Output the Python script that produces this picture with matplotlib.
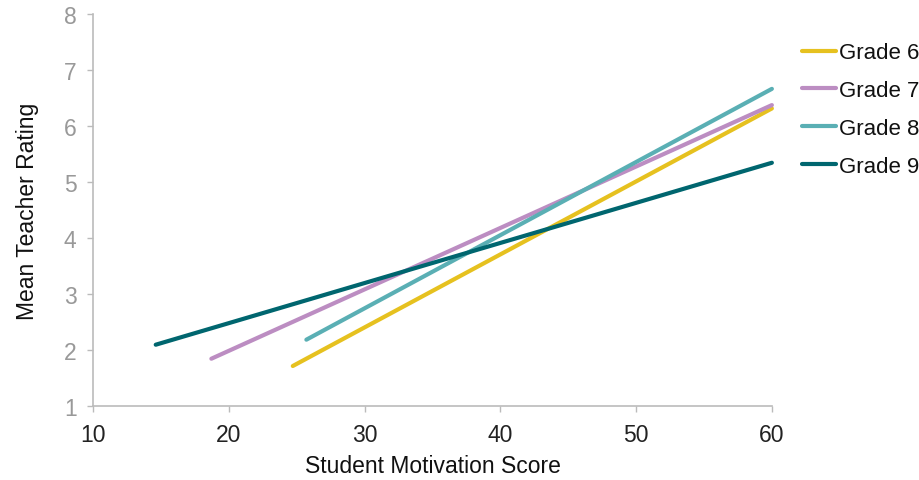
import matplotlib
matplotlib.use("Agg")
import matplotlib.pyplot as plt

plt.rcParams['font.family'] = ['Liberation Sans', 'DejaVu Sans']

# fitted lines per grade: (start score, start rating) -> (end score, end rating)
grades = ["Grade 6", "Grade 7", "Grade 8", "Grade 9"]
x_start = [24.7, 18.7, 25.7, 14.6]
x_end = [60, 60, 60, 60]
y_start = [1.72, 1.85, 2.19, 2.10]
y_end = [6.32, 6.38, 6.67, 5.35]
colors = ["#E6C11F", "#BC8DC2", "#5AAFB4", "#00666F"]

x_ticks = [10, 20, 30, 40, 50, 60]
y_ticks = [1, 2, 3, 4, 5, 6, 7, 8]

fig = plt.figure(figsize=(9.2, 4.81), dpi=100)
ax = fig.add_axes([0.1014, 0.1532, 0.7376, 0.8148])

for i in range(len(grades)):
    ax.plot([x_start[i], x_end[i]], [y_start[i], y_end[i]], color=colors[i],
            lw=3.0, solid_capstyle="round", label=grades[i], clip_on=False)

ax.set_xlim(10, 60)
ax.set_ylim(1, 8)
ax.set_xticks(x_ticks)
ax.set_yticks(y_ticks)

for s in ["top", "right"]:
    ax.spines[s].set_visible(False)
for s in ["left", "bottom"]:
    ax.spines[s].set_color("#BBBBBB")
    ax.spines[s].set_linewidth(1.2)

ax.tick_params(axis="both", colors="#BBBBBB", length=4, width=1.0, labelsize=16.5, pad=8)
ax.tick_params(axis="x", labelcolor="#222222")
ax.tick_params(axis="y", labelcolor="#999999")

ax.set_xlabel("Student Motivation Score", fontsize=16.5, color="#111111", labelpad=6)
ax.set_ylabel("Mean Teacher Rating", fontsize=16.5, color="#111111", labelpad=18)

leg = fig.legend(loc="upper left", bbox_to_anchor=(0.872, 0.91), frameon=False,
                 fontsize=16, handlelength=1.5, handletextpad=0.15,
                 labelspacing=0.76, borderpad=0, borderaxespad=0)
for t in leg.get_texts():
    t.set_color("#111111")

fig.savefig("out.png", dpi=100)
